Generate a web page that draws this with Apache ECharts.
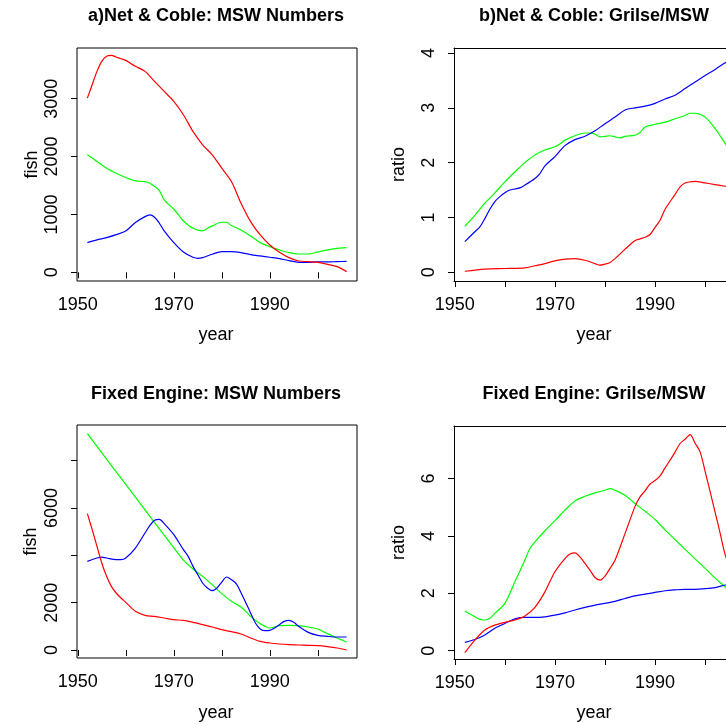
<!DOCTYPE html>
<html>
<head>
<meta charset="utf-8">
<script src="https://cdn.jsdelivr.net/npm/echarts@6/dist/echarts.min.js"></script>
<style>html,body{margin:0;padding:0;background:#fff}#c{width:726px;height:725px}</style>
</head>
<body>
<div id="c"></div>
<script>
// ---------- Panel a) Net & Coble: MSW Numbers ----------
var aRedYears = [1952,1953,1954,1955,1956,1957,1958,1959,1960,1962,1964,1966,1968,1970,1972,1974,1976,1978,1980,1982,1984,1986,1988,1990,1992,1994,1996,1998,2000,2002,2004,2006];
var aRed = [3011,3242,3473,3646,3733,3750,3721,3692,3663,3560,3473,3300,3127,2954,2723,2435,2204,2031,1800,1569,1194,877,646,473,346,254,196,185,173,138,98,12];
var aGreenYears = [1952,1954,1956,1958,1960,1962,1964,1965,1966,1967,1968,1970,1971,1972,1974,1976,1977,1978,1980,1981,1982,1984,1986,1988,1990,1992,1994,1996,1998,2000,2002,2004,2006];
var aGreen = [2031,1915,1800,1713,1638,1581,1569,1540,1483,1413,1252,1090,992,888,762,715,762,802,865,865,808,733,629,513,444,387,340,317,317,352,387,415,427];
var aBlueYears = [1952,1954,1956,1958,1960,1962,1964,1965,1966,1967,1968,1970,1972,1974,1975,1976,1978,1980,1982,1984,1986,1988,1990,1992,1994,1996,1998,2000,2002,2004,2006];
var aBlue = [513,560,600,652,715,860,963,992,952,848,715,513,352,260,242,254,312,358,358,340,306,283,260,237,202,173,173,179,179,185,190];

// ---------- Panel b) Net & Coble: Grilse/MSW ----------
var bRedYears = [1952,1956,1960,1964,1966,1968,1970,1972,1974,1976,1978,1979,1980,1981,1982,1984,1986,1987,1988,1989,1990,1991,1992,1994,1995,1996,1997,1998,2000,2002,2004,2006];
var bRed = [0.02,0.06,0.07,0.08,0.12,0.16,0.21,0.24,0.25,0.22,0.16,0.13,0.15,0.18,0.25,0.42,0.58,0.61,0.64,0.69,0.82,0.95,1.15,1.42,1.56,1.63,1.65,1.66,1.63,1.60,1.57,1.54];
var bGreenYears = [1952,1954,1956,1958,1960,1962,1964,1966,1968,1970,1971,1972,1974,1976,1977,1978,1979,1980,1981,1982,1983,1984,1986,1987,1988,1990,1992,1994,1996,1997,1998,2000,2002,2004,2006];
var bGreen = [0.84,1.04,1.26,1.45,1.65,1.83,2.00,2.14,2.23,2.29,2.34,2.41,2.49,2.54,2.54,2.52,2.47,2.48,2.49,2.47,2.45,2.48,2.50,2.55,2.65,2.70,2.74,2.80,2.86,2.90,2.90,2.83,2.62,2.35,2.05];
var bBlueYears = [1952,1954,1955,1956,1957,1958,1959,1960,1961,1962,1963,1964,1966,1967,1968,1970,1972,1974,1976,1978,1980,1982,1984,1986,1988,1990,1992,1994,1996,1998,2000,2002,2004,2006];
var bBlue = [0.56,0.74,0.83,0.98,1.15,1.29,1.38,1.45,1.50,1.52,1.54,1.59,1.71,1.80,1.94,2.11,2.31,2.42,2.48,2.58,2.71,2.83,2.96,3.00,3.03,3.08,3.16,3.23,3.35,3.47,3.59,3.70,3.82,3.93];

// ---------- Panel c) Fixed Engine: MSW Numbers ----------
var cRedYears = [1952,1953,1954,1955,1956,1957,1958,1959,1960,1962,1964,1966,1968,1970,1972,1974,1976,1978,1980,1982,1984,1986,1988,1990,1992,1994,1996,1998,2000,2002,2004,2006];
var cRed = [5759,5083,4379,3675,3112,2689,2408,2196,2013,1633,1464,1422,1352,1281,1253,1169,1070,971,859,774,676,507,366,296,253,225,211,197,183,141,84,0];
var cGreenYears = [1952,1956,1960,1964,1968,1970,1972,1974,1976,1978,1980,1982,1984,1986,1988,1990,1992,1994,1996,1998,2000,2002,2004,2006];
var cGreen = [9138,8066,6994,5922,4850,4314,3800,3420,3112,2760,2380,2056,1816,1422,1112,929,1028,1042,1028,971,887,690,507,338];
var cBlueYears = [1952,1954,1955,1956,1958,1959,1960,1962,1964,1965,1966,1967,1968,1970,1972,1973,1974,1975,1976,1977,1978,1979,1980,1981,1982,1983,1984,1985,1986,1987,1988,1989,1990,1991,1992,1993,1994,1995,1996,1998,2000,2002,2004,2006];
var cBlue = [3745,3886,3928,3886,3816,3816,3886,4308,4942,5252,5477,5519,5336,4872,4238,3956,3534,3182,2830,2619,2506,2619,2872,3084,2971,2800,2420,2000,1560,1141,888,816,829,929,1070,1211,1253,1169,1000,746,620,577,549,549];

// ---------- Panel d) Fixed Engine: Grilse/MSW ----------
var dRedYears = [1952,1954,1956,1958,1960,1962,1964,1966,1968,1970,1972,1973,1974,1975,1976,1977,1978,1979,1980,1981,1982,1984,1986,1987,1988,1989,1990,1991,1992,1993,1994,1995,1996,1997,1998,1999,2000,2001,2002,2003,2004,2006];
var dRed = [-0.07,0.37,0.72,0.89,0.99,1.07,1.21,1.51,2.05,2.75,3.21,3.37,3.41,3.27,3.04,2.81,2.55,2.46,2.60,2.87,3.15,4.08,5.03,5.36,5.57,5.81,5.93,6.09,6.37,6.64,6.92,7.22,7.37,7.53,7.23,6.93,6.25,5.54,4.82,4.10,3.35,2.4];
var dGreenYears = [1952,1954,1955,1956,1957,1958,1960,1962,1964,1965,1966,1968,1970,1972,1974,1976,1978,1980,1981,1982,1984,1986,1988,1990,1992,1994,1996,1998,2000,2002,2004,2006];
var dGreen = [1.38,1.18,1.09,1.07,1.13,1.30,1.65,2.40,3.16,3.56,3.79,4.18,4.53,4.90,5.22,5.38,5.50,5.59,5.65,5.59,5.42,5.13,4.86,4.57,4.21,3.87,3.53,3.20,2.87,2.53,2.22,1.88];
var dBlueYears = [1952,1954,1956,1958,1960,1962,1964,1966,1968,1970,1972,1974,1976,1978,1980,1982,1984,1986,1988,1990,1992,1994,1996,1998,2000,2002,2004,2006];
var dBlue = [0.29,0.39,0.55,0.78,0.95,1.11,1.16,1.16,1.18,1.24,1.32,1.42,1.51,1.59,1.65,1.72,1.82,1.91,1.97,2.03,2.09,2.12,2.14,2.14,2.16,2.20,2.29,2.35];

// ---------- tick labels ----------
var xTicks = [1950,1960,1970,1980,1990,2000];
var xTickLabels = [1950,1970,1990];
var aYTicks = [0,1000,2000,3000];
var bYTicks = [0,1,2,3,4];
var cYTicks = [0,2000,4000,6000,8000];
var cYTickLabels = [0,2000,6000];
var dYTicks = [0,2,4,6];

var titles = ['a)Net & Coble: MSW Numbers','b)Net & Coble: Grilse/MSW','Fixed Engine: MSW Numbers','Fixed Engine: Grilse/MSW'];

var FONT = '"Liberation Sans", Arial, Helvetica, sans-serif';
function zip(xs, ys){ return xs.map(function(x,i){ return [x, ys[i]]; }); }

// right-hand panels are cut off by the image edge (x range continues past 2004)
var grids = [
  {left:77, top:48, width:280, height:233, full:true},
  {left:454, top:48, width:272, height:233, full:false},
  {left:77, top:425, width:280, height:233, full:true},
  {left:454, top:426, width:272, height:233, full:false}
];
var xMax = [2008.16, 2004.17, 2008.16, 2004.17];
var yRanges = [[-150,3877],[-0.158,4.09],[-338,9506],[-0.289,7.83]];
var yTickSets = [aYTicks,bYTicks,cYTicks,dYTicks];
var yLabelSets = [aYTicks,bYTicks,cYTickLabels,dYTicks];
var yNames = ['fish','ratio','fish','ratio'];
var yNameGaps = [36,46,37,46];
var edge = {show:true, onZero:false, lineStyle:{color:'#000', width:1}};

var option = {
  animation:false,
  backgroundColor:'#fff',
  grid: grids.map(function(g){ return {left:g.left, top:g.top, width:g.width, height:g.height, show:g.full, borderColor:'#000', borderWidth:1, backgroundColor:'transparent', containLabel:false}; }),
  xAxis: grids.map(function(g,i){ return {
    type:'value', gridIndex:i, min:1949.84, max:xMax[i],
    splitLine:{show:false},
    axisLine: g.full ? {show:false} : edge,
    axisTick:{show:true, inside:false, length:6, lineStyle:{color:'#000', width:1}, customValues:xTicks},
    axisLabel:{show:true, margin:15, fontSize:18, fontFamily:FONT, color:'#000', customValues:xTickLabels, formatter:function(v){return String(v);}}
  };}),
  yAxis: grids.map(function(g,i){ return {
    type:'value', gridIndex:i, min:yRanges[i][0], max:yRanges[i][1],
    splitLine:{show:false},
    axisLine: g.full ? {show:false} : edge,
    axisTick:{show:true, inside:false, length:6, lineStyle:{color:'#000', width:1}, customValues:yTickSets[i]},
    axisLabel:{show:true, rotate:90, margin:16, fontSize:18, fontFamily:FONT, color:'#000', customValues:yLabelSets[i], formatter:function(v){return String(v);}},
    name:yNames[i], nameLocation:'middle', nameRotate:90, nameGap:yNameGaps[i],
    nameTextStyle:{fontSize:18, fontFamily:FONT, color:'#000'}
  };}),
  series: [],
  graphic: []
};
// top edges of the cut-off boxes
[1,3].forEach(function(gi){
  option.xAxis.push({type:'value', gridIndex:gi, position:'top', min:1949.84, max:xMax[gi],
    splitLine:{show:false}, axisTick:{show:false}, axisLabel:{show:false}, axisLine:edge});
});

function addLine(gi, xs, ys, color){
  option.series.push({type:'line', xAxisIndex:gi, yAxisIndex:gi, data:zip(xs,ys), showSymbol:false, symbol:'none', smooth:0.3,
    lineStyle:{color:color, width:1.2}, itemStyle:{color:color}, clip:true});
}
addLine(0, aGreenYears, aGreen, '#00ff00');
addLine(0, aBlueYears, aBlue, '#0000ff');
addLine(0, aRedYears, aRed, '#ff0000');
addLine(1, bGreenYears, bGreen, '#00ff00');
addLine(1, bBlueYears, bBlue, '#0000ff');
addLine(1, bRedYears, bRed, '#ff0000');
addLine(2, cGreenYears, cGreen, '#00ff00');
addLine(2, cBlueYears, cBlue, '#0000ff');
addLine(2, cRedYears, cRed, '#ff0000');
addLine(3, dGreenYears, dGreen, '#00ff00');
addLine(3, dBlueYears, dBlue, '#0000ff');
addLine(3, dRedYears, dRed, '#ff0000');

var titlePos = [[216,16],[594,16],[216,394],[594,394]];
var yearPos = [[216,335],[594,335],[216,713],[594,713]];
titles.forEach(function(t,i){
  option.graphic.push({type:'text', x:titlePos[i][0], y:titlePos[i][1], style:{text:t, fontSize:18, fontWeight:'bold', fontFamily:FONT, fill:'#000', align:'center', verticalAlign:'middle'}});
  option.graphic.push({type:'text', x:yearPos[i][0], y:yearPos[i][1], style:{text:'year', fontSize:18, fontFamily:FONT, fill:'#000', align:'center', verticalAlign:'middle'}});
});

var chart = echarts.init(document.getElementById('c'), null, {renderer:'canvas'});
chart.setOption(option);
</script>
</body>
</html>
